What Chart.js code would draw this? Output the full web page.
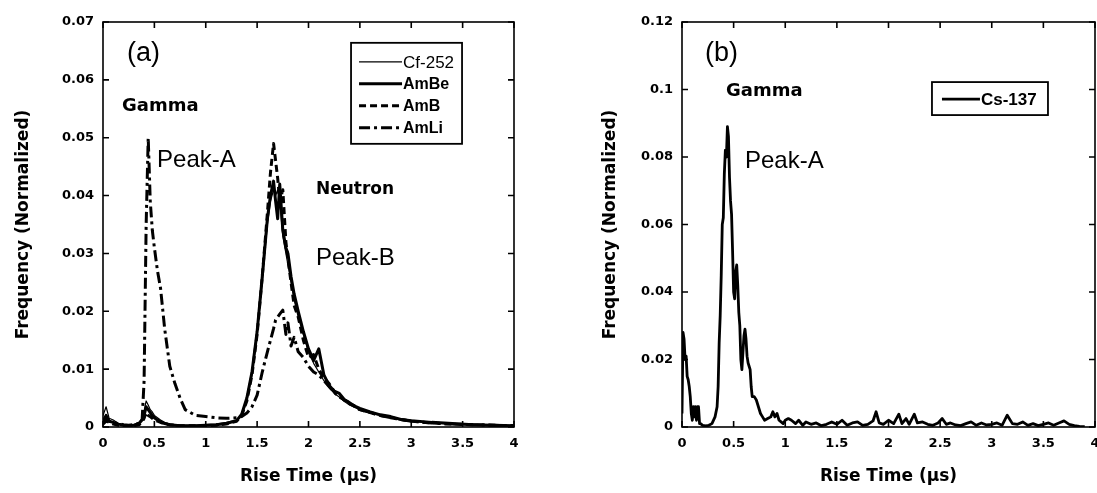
<!DOCTYPE html>
<html>
<head>
<meta charset="utf-8">
<script src="https://cdn.jsdelivr.net/npm/chart.js@4.4.0/dist/chart.umd.min.js"></script>
<style>
  html, body { margin: 0; padding: 0; background: #fff; }
  #wrap { position: relative; width: 1097px; height: 493px; overflow: hidden; }
  .box { position: absolute; top: 0; height: 493px; }
  #boxA { left: 0; width: 550px; }
  #boxB { left: 550px; width: 547px; }
</style>
</head>
<body>
<div id="wrap">
  <div class="box" id="boxA"><canvas id="chartA"></canvas></div>
  <div class="box" id="boxB"><canvas id="chartB"></canvas></div>
</div>
<script>
// ---- panel (a): rise time distributions for the neutron sources ----
const riseTimeA = [0, 0.03, 0.06, 0.1, 0.15, 0.2, 0.25, 0.3, 0.35, 0.38,
  0.4, 0.42, 0.44, 0.46, 0.48, 0.5, 0.53, 0.56, 0.6, 0.65,
  0.7, 0.75, 0.8, 0.85, 0.9, 1.0, 1.1, 1.2, 1.3, 1.35,
  1.4, 1.45, 1.5, 1.55, 1.6, 1.63, 1.66, 1.68, 1.7, 1.72,
  1.75, 1.78, 1.8, 1.83, 1.86, 1.9, 1.95, 2.0, 2.05, 2.1,
  2.15, 2.2, 2.25, 2.3, 2.35, 2.4, 2.45, 2.5, 2.6, 2.7,
  2.8, 2.9, 3.0, 3.2, 3.4, 3.6, 3.8, 4.0];

const cf252 = [0.002, 0.0035, 0.0015, 0.0012, 0.0006, 0.0004, 0.0003, 0.0004, 0.0008, 0.0015,
  0.0028, 0.0045, 0.0038, 0.003, 0.0026, 0.002, 0.0016, 0.0012, 0.0008, 0.0005,
  0.0004, 0.0003, 0.0003, 0.0003, 0.0003, 0.0004, 0.0005, 0.0008, 0.0012, 0.002,
  0.0045, 0.009, 0.016, 0.025, 0.035, 0.039, 0.041, 0.040, 0.041, 0.039,
  0.033, 0.030, 0.028, 0.025, 0.022, 0.019, 0.016, 0.013, 0.011, 0.0095,
  0.008, 0.0068, 0.0058, 0.0052, 0.0044, 0.0038, 0.0034, 0.003, 0.0024, 0.002,
  0.0016, 0.0012, 0.001, 0.0007, 0.0005, 0.0003, 0.0002, 0.0001];

const amBe = [0.001, 0.002, 0.001, 0.0008, 0.0005, 0.0003, 0.0002, 0.0003, 0.0006, 0.0012,
  0.002, 0.0035, 0.003, 0.0025, 0.002, 0.0016, 0.0012, 0.0009, 0.0006, 0.0004,
  0.0003, 0.0002, 0.0002, 0.0002, 0.0002, 0.0003, 0.0004, 0.0006, 0.0011, 0.0022,
  0.005, 0.0095, 0.0165, 0.026, 0.036, 0.040, 0.0425, 0.039, 0.036, 0.042,
  0.034, 0.031, 0.030, 0.026, 0.023, 0.020, 0.0165, 0.0135, 0.0115, 0.0135,
  0.009, 0.0072, 0.0062, 0.0058, 0.0047, 0.0042, 0.0036, 0.0032, 0.0026, 0.0021,
  0.0018, 0.0013, 0.0011, 0.0008, 0.0006, 0.0004, 0.0003, 0.0002];

const amB = [0.0005, 0.001, 0.0008, 0.0005, 0.0003, 0.0002, 0.0002, 0.0002, 0.0004, 0.0008,
  0.0015, 0.0025, 0.002, 0.0018, 0.0015, 0.0012, 0.001, 0.0008, 0.0005, 0.0004,
  0.0003, 0.0002, 0.0002, 0.0002, 0.0002, 0.0002, 0.0003, 0.0005, 0.001, 0.002,
  0.0045, 0.009, 0.016, 0.026, 0.037, 0.044, 0.049, 0.046, 0.043, 0.039,
  0.041, 0.032, 0.029, 0.025, 0.021, 0.019, 0.015, 0.012, 0.0125, 0.010,
  0.0085, 0.0075, 0.0062, 0.0053, 0.0046, 0.004, 0.0036, 0.003, 0.0025, 0.002,
  0.0016, 0.0013, 0.001, 0.0007, 0.0005, 0.0004, 0.0003, 0.0002];

const amLi = [0.0008, 0.0015, 0.001, 0.0008, 0.0006, 0.0004, 0.0003, 0.0004, 0.0006, 0.001,
  0.008, 0.035, 0.050, 0.039, 0.034, 0.031, 0.027, 0.024, 0.017, 0.0105,
  0.0075, 0.005, 0.003, 0.0025, 0.002, 0.0018, 0.0016, 0.0015, 0.0016, 0.0018,
  0.0024, 0.0035, 0.0055, 0.0095, 0.013, 0.015, 0.017, 0.0185, 0.019, 0.0195,
  0.0202, 0.016, 0.018, 0.014, 0.0155, 0.013, 0.012, 0.0105, 0.0095, 0.009,
  0.008, 0.007, 0.006, 0.0052, 0.0047, 0.0042, 0.0036, 0.003, 0.0025, 0.002,
  0.0016, 0.0013, 0.001, 0.0007, 0.0005, 0.0004, 0.0003, 0.0002];

// ---- panel (b): Cs-137 ----
const riseTimeB = [0, 0.01, 0.02, 0.03, 0.04, 0.05, 0.06, 0.07, 0.08, 0.09,
  0.1, 0.11, 0.12, 0.13, 0.14, 0.15, 0.16, 0.17, 0.18, 0.2,
  0.23, 0.26, 0.29, 0.32, 0.34, 0.35, 0.36, 0.37, 0.38, 0.39,
  0.4, 0.41, 0.42, 0.43, 0.44, 0.45, 0.46, 0.47, 0.48, 0.49,
  0.5, 0.51, 0.52, 0.53, 0.54, 0.55, 0.56, 0.57, 0.58, 0.59,
  0.6, 0.61, 0.62, 0.63, 0.64, 0.65, 0.66, 0.67, 0.68, 0.7,
  0.72, 0.74, 0.76, 0.78, 0.8, 0.83, 0.86, 0.88, 0.9, 0.92,
  0.94, 0.96, 0.98, 1.0, 1.03, 1.06, 1.1, 1.13, 1.17, 1.2,
  1.25, 1.3, 1.35, 1.4, 1.45, 1.5, 1.55, 1.6, 1.65, 1.7,
  1.75, 1.8, 1.85, 1.88, 1.91, 1.95, 2.0, 2.05, 2.1, 2.13,
  2.17, 2.2, 2.25, 2.28, 2.33, 2.38, 2.43, 2.48, 2.52, 2.56,
  2.6, 2.65, 2.7, 2.75, 2.8, 2.85, 2.9, 2.95, 3.0, 3.05,
  3.1, 3.15, 3.2, 3.25, 3.3, 3.35, 3.4, 3.45, 3.5, 3.55,
  3.6, 3.65, 3.7, 3.75, 3.8, 3.85, 3.9];

const cs137 = [0.004, 0.028, 0.026, 0.02, 0.021, 0.015, 0.014, 0.012, 0.009, 0.004,
  0.002, 0.006, 0.003, 0.006, 0.002, 0.006, 0.006, 0.001, 0.001, 0.0005,
  0.0003, 0.0005, 0.001, 0.003, 0.006, 0.012, 0.025, 0.033, 0.045, 0.06,
  0.062, 0.075, 0.082, 0.08, 0.089, 0.086, 0.074, 0.067, 0.063, 0.052,
  0.04, 0.038, 0.046, 0.048, 0.042, 0.034, 0.03, 0.02, 0.017, 0.022,
  0.027, 0.029, 0.026, 0.021, 0.019, 0.018, 0.017, 0.012, 0.009, 0.009,
  0.008, 0.006, 0.004, 0.003, 0.002, 0.0025, 0.003, 0.0045, 0.003, 0.004,
  0.002, 0.0015, 0.001, 0.002, 0.0025, 0.002, 0.001, 0.002, 0.0005, 0.0015,
  0.0008, 0.0012, 0.0004, 0.0008, 0.0015, 0.0008, 0.002, 0.0005, 0.0012, 0.0015,
  0.0005, 0.0008, 0.0018, 0.0045, 0.0012, 0.0008, 0.002, 0.001, 0.0038, 0.001,
  0.0025, 0.0008, 0.0038, 0.0012, 0.0015, 0.0008, 0.0005, 0.0012, 0.0025, 0.0008,
  0.0012, 0.0006, 0.0004, 0.001, 0.0015, 0.0005, 0.0012, 0.0006, 0.0008, 0.0012,
  0.0005, 0.0035, 0.001, 0.0008, 0.0015, 0.0005, 0.001, 0.0004, 0.0008, 0.0012,
  0.0005, 0.0012, 0.0018, 0.0008, 0.0004, 0.0002, 0.0001];

const xTicks = { min: 0, max: 4, step: 0.5 };
const yTicksA = { min: 0, max: 0.07, step: 0.01 };
const yTicksB = { min: 0, max: 0.12, step: 0.02 };

const toPoints = (xs, ys) => xs.map((x, i) => ({ x: x, y: ys[i] }));
const fmt = v => String(+Number(v).toFixed(2));

const tickFont = { family: 'DejaVu Sans', weight: 'bold', size: 13 };
const titleFont = { family: 'DejaVu Sans', weight: 'bold', size: 17 };

// box frame with inward tick marks on all four sides
const framePlugin = {
  id: 'frame',
  afterDatasetsDraw(chart) {
    const { ctx, chartArea: a, scales: { x, y } } = chart;
    const len = 6;
    ctx.save();
    ctx.strokeStyle = '#000';
    ctx.lineWidth = 1.6;
    ctx.strokeRect(a.left, a.top, a.right - a.left, a.bottom - a.top);
    ctx.beginPath();
    x.ticks.forEach(t => {
      const px = x.getPixelForValue(t.value);
      ctx.moveTo(px, a.bottom); ctx.lineTo(px, a.bottom - len);
      ctx.moveTo(px, a.top); ctx.lineTo(px, a.top + len);
    });
    y.ticks.forEach(t => {
      const py = y.getPixelForValue(t.value);
      ctx.moveTo(a.left, py); ctx.lineTo(a.left + len, py);
      ctx.moveTo(a.right, py); ctx.lineTo(a.right - len, py);
    });
    ctx.stroke();
    ctx.restore();
  }
};

// text labels placed in data coordinates
const notesPlugin = {
  id: 'notes',
  afterDatasetsDraw(chart, args, opts) {
    const { ctx, scales: { x, y } } = chart;
    ctx.save();
    ctx.fillStyle = '#000';
    ctx.textAlign = 'left';
    ctx.textBaseline = 'middle';
    opts.items.forEach(n => {
      ctx.font = n.font;
      ctx.fillText(n.text, x.getPixelForValue(n.x), y.getPixelForValue(n.y));
    });
    ctx.restore();
  }
};

// legend drawn as a framed box inside the plot
const boxLegendPlugin = {
  id: 'boxLegend',
  afterDatasetsDraw(chart, args, opts) {
    const { ctx, scales: { x, y } } = chart;
    const left = x.getPixelForValue(opts.x);
    const top = y.getPixelForValue(opts.y);
    ctx.save();
    ctx.fillStyle = '#fff';
    ctx.fillRect(left, top, opts.width, opts.height);
    ctx.strokeStyle = '#000';
    ctx.lineWidth = 1.8;
    ctx.strokeRect(left, top, opts.width, opts.height);
    ctx.fillStyle = '#000';
    ctx.textAlign = 'left';
    ctx.textBaseline = 'middle';
    chart.data.datasets.forEach((ds, i) => {
      const cy = top + opts.first + i * opts.gap;
      ctx.setLineDash(ds.borderDash || []);
      ctx.lineWidth = ds.borderWidth;
      ctx.beginPath();
      ctx.moveTo(left + opts.inset, cy);
      ctx.lineTo(left + opts.inset + opts.line, cy);
      ctx.stroke();
      ctx.setLineDash([]);
      ctx.font = ds.legendFont;
      ctx.fillText(ds.label, left + opts.inset + opts.line + 1, cy + 1);
    });
    ctx.restore();
  }
};

function lineSet(label, xs, ys, width, dash, legendFont) {
  return {
    label: label,
    data: toPoints(xs, ys),
    borderColor: '#000',
    backgroundColor: '#000',
    borderWidth: width,
    borderDash: dash,
    borderJoinStyle: 'round',
    pointRadius: 0,
    tension: 0,
    fill: false,
    legendFont: legendFont
  };
}

function scalesFor(yt, yWidth, yTitlePad) {
  return {
    x: {
      type: 'linear', min: xTicks.min, max: xTicks.max,
      afterFit: s => { s.height = 66; s.paddingLeft = 0; s.paddingRight = 0; },
      grid: { display: false, drawTicks: false },
      border: { display: false },
      ticks: { stepSize: xTicks.step, padding: 9, color: '#000', font: tickFont,
        maxRotation: 0, autoSkip: false, callback: fmt },
      title: { display: true, text: 'Rise Time (μs)', color: '#000', font: titleFont,
        padding: { top: 0, bottom: 6 } }
    },
    y: {
      type: 'linear', min: yt.min, max: yt.max,
      afterFit: s => { s.width = yWidth; s.paddingTop = 0; s.paddingBottom = 0; },
      grid: { display: false, drawTicks: false },
      border: { display: false },
      ticks: { stepSize: yt.step, padding: 9, color: '#000', font: tickFont, callback: fmt },
      title: { display: true, text: 'Frequency (Normalized)', color: '#000', font: titleFont,
        padding: { top: yTitlePad, bottom: 0 } }
    }
  };
}

new Chart(document.getElementById('chartA'), {
  type: 'line',
  data: {
    datasets: [
      lineSet('Cf-252', riseTimeA, cf252, 1.2, [], '17px "Liberation Sans"'),
      lineSet('AmBe', riseTimeA, amBe, 3, [], 'bold 16px "Liberation Sans"'),
      lineSet('AmB', riseTimeA, amB, 3, [7, 4], 'bold 16px "Liberation Sans"'),
      lineSet('AmLi', riseTimeA, amLi, 3, [11, 4, 3, 4], 'bold 16px "Liberation Sans"')
    ]
  },
  options: {
    responsive: true,
    maintainAspectRatio: false,
    animation: false,
    devicePixelRatio: 1,
    layout: { padding: { top: 22, right: 36, bottom: 0, left: 0 } },
    scales: scalesFor(yTicksA, 103, 13),
    plugins: {
      legend: { display: false },
      tooltip: { enabled: false },
      notes: {
        items: [
          { text: '(a)', x: 0.234, y: 0.0646, font: '27px "Liberation Sans"' },
          { text: 'Gamma', x: 0.185, y: 0.0555, font: 'bold 18px "DejaVu Sans"' },
          { text: 'Peak-A', x: 0.526, y: 0.0461, font: '24px "Liberation Sans"' },
          { text: 'Neutron', x: 2.073, y: 0.041, font: 'bold 17px "DejaVu Sans"' },
          { text: 'Peak-B', x: 2.073, y: 0.0292, font: '24px "Liberation Sans"' }
        ]
      },
      boxLegend: { x: 2.414, y: 0.0664, width: 111, height: 101, first: 19, gap: 22, inset: 8, line: 43 }
    }
  },
  plugins: [framePlugin, notesPlugin, boxLegendPlugin]
});

new Chart(document.getElementById('chartB'), {
  type: 'line',
  data: {
    datasets: [
      lineSet('Cs-137', riseTimeB, cs137, 2.8, [], 'bold 17px "Liberation Sans"')
    ]
  },
  options: {
    responsive: true,
    maintainAspectRatio: false,
    animation: false,
    devicePixelRatio: 1,
    layout: { padding: { top: 22, right: 2, bottom: 0, left: 0 } },
    scales: scalesFor(yTicksB, 132, 50),
    plugins: {
      legend: { display: false },
      tooltip: { enabled: false },
      notes: {
        items: [
          { text: '(b)', x: 0.223, y: 0.1108, font: '27px "Liberation Sans"' },
          { text: 'Gamma', x: 0.426, y: 0.0996, font: 'bold 18px "DejaVu Sans"' },
          { text: 'Peak-A', x: 0.61, y: 0.0788, font: '24px "Liberation Sans"' }
        ]
      },
      boxLegend: { x: 2.421, y: 0.1022, width: 116, height: 33, first: 17, gap: 22, inset: 10, line: 38 }
    }
  },
  plugins: [framePlugin, notesPlugin, boxLegendPlugin]
});
</script>
</body>
</html>
